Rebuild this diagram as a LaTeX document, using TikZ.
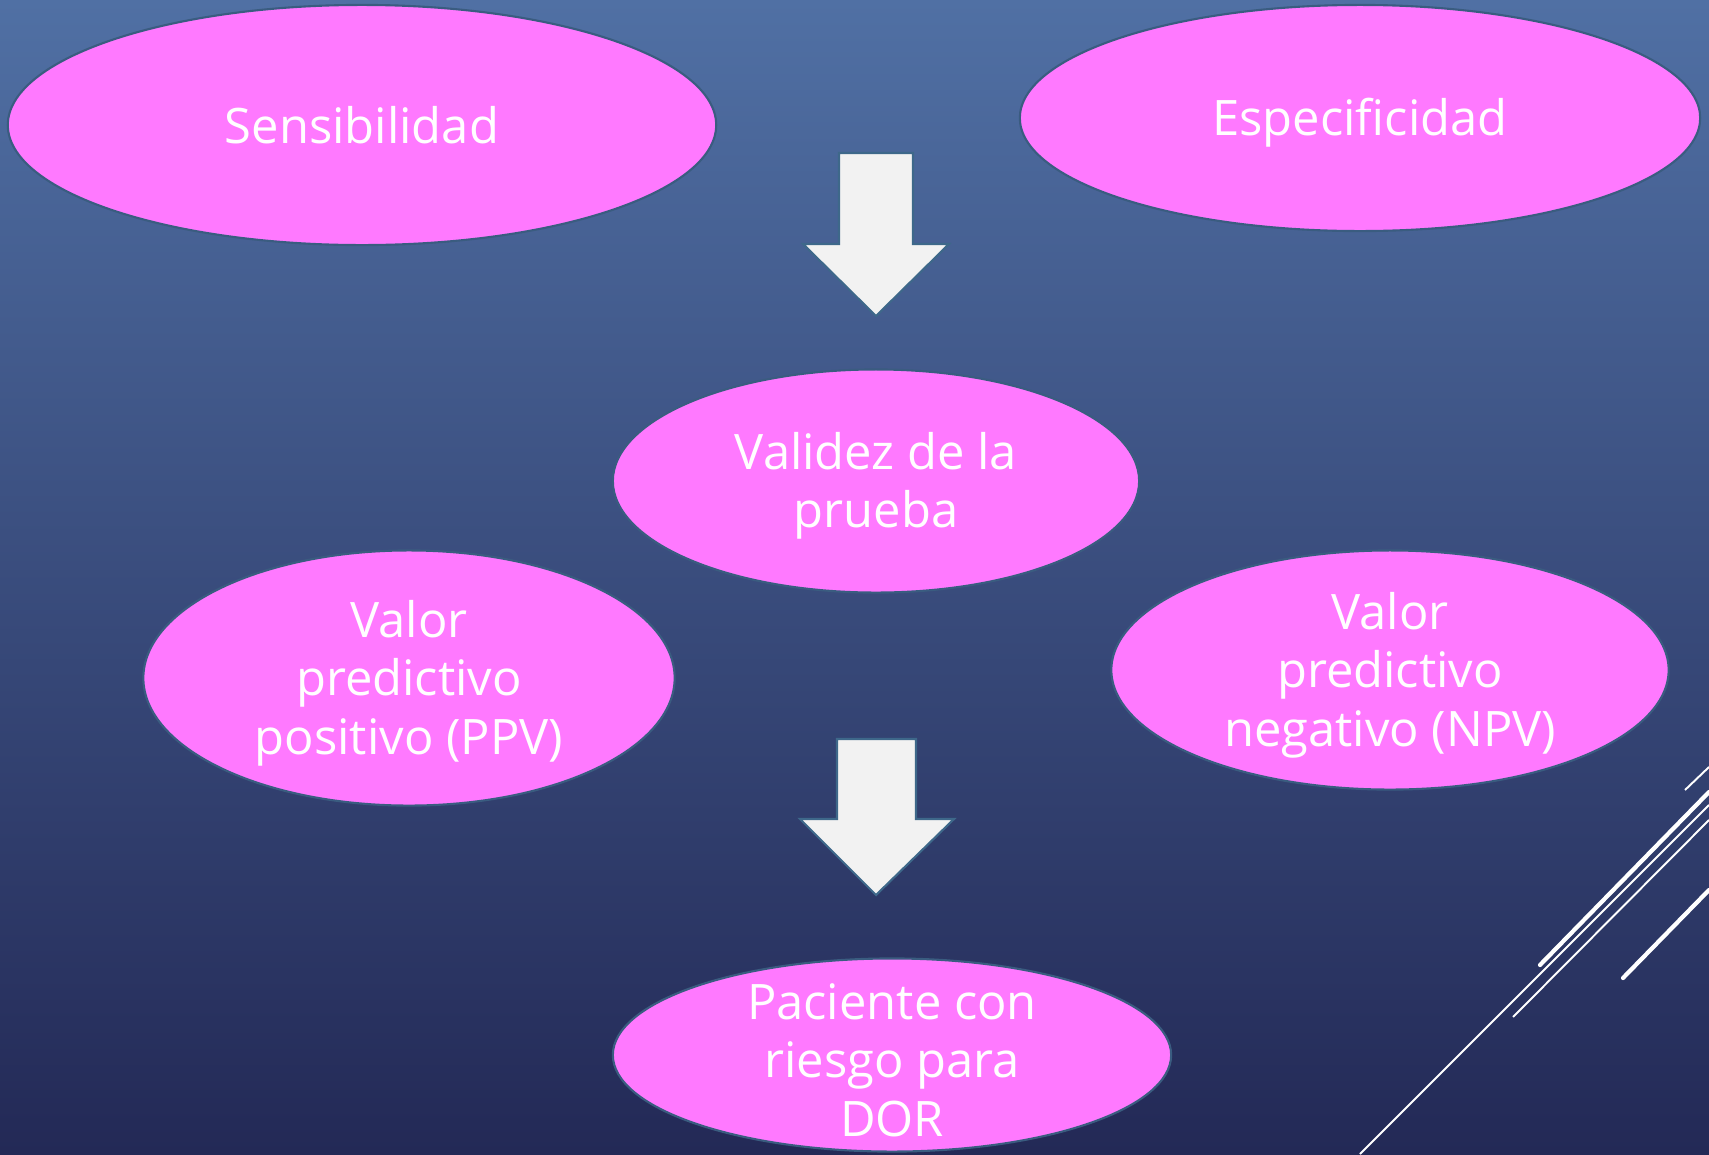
\documentclass[tikz,border=0pt]{standalone}
\usepackage{fontspec}
\setmainfont{Open Sans}
\usetikzlibrary{shapes.geometric}
\definecolor{bgtop}{RGB}{80,112,164}
\definecolor{bgbot}{RGB}{35,41,86}
\definecolor{pinkfill}{RGB}{255,121,255}
\definecolor{ellborder}{RGB}{58,92,128}
\definecolor{arrfill}{RGB}{242,242,242}
\definecolor{arrborder}{RGB}{62,104,138}
\tikzset{
  ell/.style={ellipse, fill=pinkfill, draw=ellborder, line width=0.6pt, inner sep=0pt},
  lbl/.style={text=white, align=center, font=\fontsize{13.9}{16.6}\selectfont, inner sep=0pt, yshift=-0.5mm},
  arrowshape/.style={fill=arrfill, draw=arrborder, line width=0.6pt, line join=miter},
  thinline/.style={white, line width=0.55pt},
  thickline/.style={white, line width=1.2pt, line cap=round}
}
\begin{document}
\begin{tikzpicture}[x=0.01cm,y=-0.01cm]
\shade[top color=bgtop, bottom color=bgbot] (0,0) rectangle (1709,1154);
\useasboundingbox (0,0) rectangle (1709,1154);

% decorative lines
\coordinate (l1a) at (1360,1154); \coordinate (l1b) at (1709,805);
\coordinate (l2a) at (1540,965);  \coordinate (l2b) at (1709,792);
\coordinate (l3a) at (1513,1017); \coordinate (l3b) at (1709,820);
\coordinate (l4a) at (1685,790);  \coordinate (l4b) at (1709,767);
\coordinate (l5a) at (1623,978);  \coordinate (l5b) at (1709,890);
\draw[thinline] (l1a) -- (l1b);
\draw[thickline] (l2a) -- (l2b);
\draw[thinline] (l3a) -- (l3b);
\draw[thinline] (l4a) -- (l4b);
\draw[thickline] (l5a) -- (l5b);

% ellipses
\node[ell, minimum width=7.08cm, minimum height=2.40cm] (sens) at (362,125) {};
\node[lbl, yshift=0.5mm] at (sens) {Sensibilidad};
\node[ell, minimum width=6.80cm, minimum height=2.26cm] (espe) at (1360,118) {};
\node[lbl] at (espe) {Especificidad};
\node[ell, minimum width=5.26cm, minimum height=2.23cm] (vali) at (876,481) {};
\node[lbl] at (vali) {Validez de la\\prueba};
\node[ell, minimum width=5.31cm, minimum height=2.55cm] (ppv) at (409,678) {};
\node[lbl] at (ppv) {Valor\\predictivo\\positivo (PPV)};
\node[ell, minimum width=5.57cm, minimum height=2.39cm] (npv) at (1390,670) {};
\node[lbl] at (npv) {Valor\\predictivo\\negativo (NPV)};
\node[ell, minimum width=5.58cm, minimum height=1.93cm] (paci) at (892,1055) {};
\node[lbl] at (paci) {Paciente con\\riesgo para\\DOR};

% block arrows
\draw[arrowshape] (839,153) -- (913,153) -- (913,244) -- (949,244) -- (876,316)
  -- (803,244) -- (839,244) -- cycle;
\draw[arrowshape] (837,739) -- (916,739) -- (916,819) -- (954,819) -- (876,895)
  -- (800,819) -- (837,819) -- cycle;
\end{tikzpicture}
\end{document}
